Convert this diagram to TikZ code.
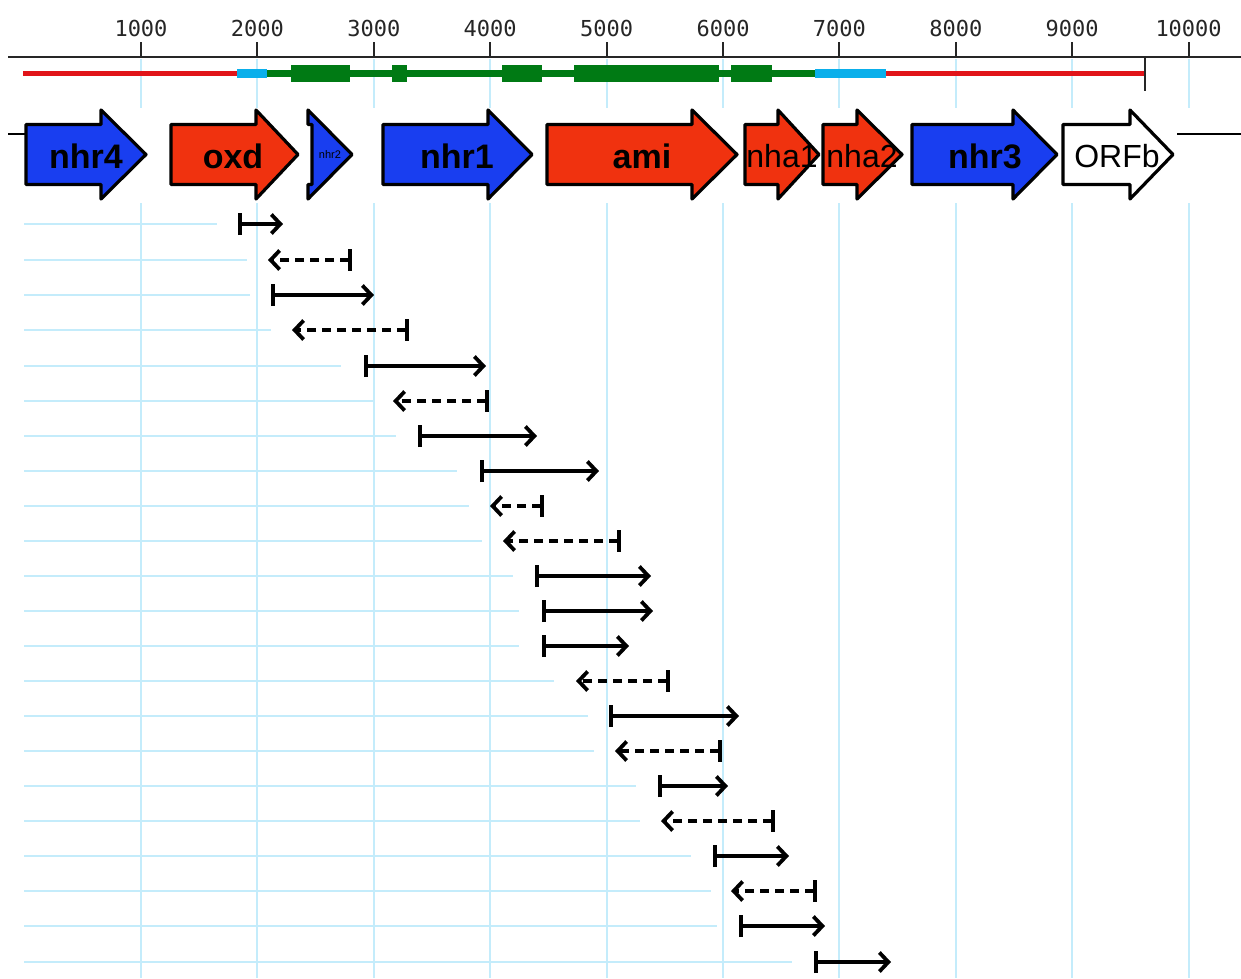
\documentclass[tikz,border=0pt]{standalone}
\usepackage{fontspec}
\setmainfont{Liberation Sans}
\newfontfamily\axisfont{DejaVu Sans Mono}
\usetikzlibrary{arrows.meta}
\definecolor{gridblue}{RGB}{196,236,251}
\definecolor{geneblue}{RGB}{25,62,240}
\definecolor{genered}{RGB}{240,50,15}
\definecolor{seqred}{RGB}{225,20,25}
\definecolor{seqcyan}{RGB}{10,175,235}
\definecolor{seqgreen}{RGB}{0,122,20}
\tikzset{
  axisline/.style={draw=black!85, line width=2pt},
  gridline/.style={draw=gridblue, line width=2pt},
  rowline/.style={draw=gridblue, line width=2pt},
  gene/.style={draw=black, line width=3.2pt, line join=round},
  boldlabel/.style={font=\fontsize{34}{34}\selectfont\bfseries, inner sep=0pt, text=black},
  thinlabel/.style={font=\fontsize{32}{32}\selectfont, inner sep=0pt, text=black},
  ticklabel/.style={font=\axisfont\fontsize{22}{22}\selectfont, inner sep=0pt, text=black!85},
  fwdarrow/.style={draw=black, line width=3.8pt,
    {Bar[width=22pt,line width=3.8pt]}-{Straight Barb[length=9pt,width=19pt,line width=3.8pt]}},
  revarrow/.style={fwdarrow, dash pattern=on 9pt off 6pt},
}
\newcommand\genearrow[4]{\draw[gene,fill=#4] (#1,124.5) -- (#2,124.5) -- (#2,110) -- (#3,154.5) -- (#2,199) -- (#2,184.5) -- (#1,184.5) -- cycle;}
\begin{document}
\begin{tikzpicture}[x=1pt,y=-1pt]
\path[use as bounding box, fill=white] (0,0) rectangle (1241,978);

% grid lines
\foreach \k in {1,...,10} {
  \pgfmathsetmacro\gx{24.6+116.4*\k}
  \draw[gridline] (\gx,59) -- (\gx,108);
  \draw[gridline] (\gx,203) -- (\gx,978);
}

% axis
\coordinate (axL) at (8,57);
\coordinate (axR) at (1241,57);
\draw[axisline] (axL) -- (axR);
\foreach \k/\lab in {1/1000,2/2000,3/3000,4/4000,5/5000,6/6000,7/7000,8/8000,9/9000,10/10000} {
  \pgfmathsetmacro\gx{24.6+116.4*\k}
  \coordinate (tb\k) at (\gx,57);
  \coordinate (tt\k) at (\gx,42);
  \draw[axisline] (tb\k) -- (tt\k);
  \node[ticklabel] (tick\k) at (\gx,28.5) {\lab};
}

% sequence track
\draw[seqred, line width=4.5pt] (23,73.5) -- (237,73.5);
\fill[seqcyan] (237,69.3) rectangle (267,78.3);
\fill[seqgreen] (267,70) rectangle (815,77.3);
\fill[seqgreen] (291,65.3) rectangle (350,82.3);
\fill[seqgreen] (392,65.3) rectangle (407,82.3);
\fill[seqgreen] (502,65.3) rectangle (542,82.3);
\fill[seqgreen] (574,65.3) rectangle (719,82.3);
\fill[seqgreen] (731,65.3) rectangle (772,82.3);
\fill[seqcyan] (815,69.3) rectangle (886,78.3);
\draw[seqred, line width=4.5pt] (886,73.5) -- (1144,73.5);
\coordinate (endT) at (1144.5,57);
\coordinate (endB) at (1144.5,91);
\draw[axisline] (endT) -- (endB);

% side lines of gene row
\coordinate (lL) at (8,133.5);
\coordinate (lR) at (26,133.5);
\draw[draw=black, line width=2pt] (lL) -- (lR);
\coordinate (rL) at (1177,133.5);
\coordinate (rR) at (1241,133.5);
\draw[draw=black, line width=2pt] (rL) -- (rR);

% genes
\genearrow{26}{101}{146}{geneblue}
\node[boldlabel] (nhr4) at (86,156) {nhr4};
\genearrow{171}{256}{298}{genered}
\node[boldlabel] (oxd) at (233,156) {oxd};
\draw[gene,fill=geneblue] (308,110) -- (352,154.5) -- (308,199) -- (308,184.5) -- (312,184.5) -- (312,124.5) -- (308,124.5) -- cycle;
\node[font=\fontsize{11}{11}\selectfont, inner sep=0pt, text=black] (nhr2) at (330,155) {nhr2};
\genearrow{383}{488}{532}{geneblue}
\node[boldlabel] (nhr1) at (457,156) {nhr1};
\genearrow{547}{692}{737}{genered}
\node[boldlabel] (ami) at (642,156) {ami};
\genearrow{745}{778}{819}{genered}
\node[thinlabel] (nha1) at (782,156) {nha1};
\genearrow{823}{857}{902}{genered}
\node[thinlabel] (nha2) at (862,156) {nha2};
\genearrow{912}{1013}{1057}{geneblue}
\node[boldlabel] (nhr3) at (985,156) {nhr3};
\genearrow{1063}{1130}{1173}{white}
\node[thinlabel] (ORFb) at (1117,156) {ORFb};

% fragment rows
\foreach \i/\y/\d/\bx/\tx/\le in {
  1/224/f/238/283/217,
  2/260/r/352/268/247,
  3/295/f/271/374/250,
  4/330/r/409/292/271,
  5/366/f/364/486/341,
  6/401/r/489/393/374,
  7/436/f/418/537/396,
  8/471/f/480/599/457,
  9/506/r/544/490/469,
  10/541/r/621/503/482,
  11/576/f/535/651/513,
  12/611/f/542/653/519,
  13/646/f/542/629/519,
  14/681/r/670/576/554,
  15/716/f/609/739/588,
  16/751/r/722/615/594,
  17/786/f/658/728/636,
  18/821/r/775/661/640,
  19/856/f/713/789/691,
  20/891/r/817/731/711,
  21/926/f/739/825/717,
  22/962/f/814/891/792} {
  \coordinate (ls\i) at (24,\y);
  \coordinate (le\i) at (\le,\y);
  \draw[rowline] (ls\i) -- (le\i);
  \coordinate (b\i) at (\bx,\y);
  \coordinate (t\i) at (\tx,\y);
  \if\d f
    \draw[fwdarrow] (b\i) -- (t\i);
  \else
    \draw[revarrow] (b\i) -- (t\i);
  \fi
}
\end{tikzpicture}
\end{document}
